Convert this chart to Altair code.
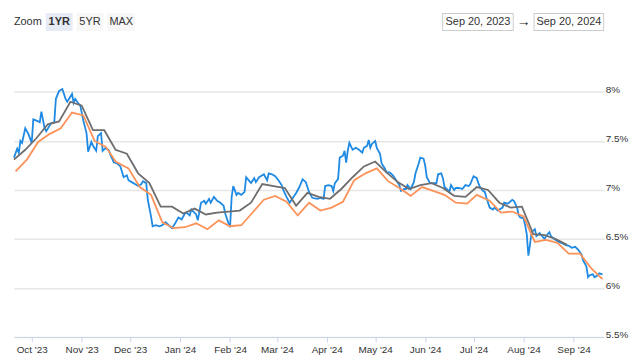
import altair as alt
import pandas as pd

# ---------------- data ----------------
START = "2023-09-20"
# daily index: days after START, rate (%)
blue_days = [0, 2, 3, 4, 5, 7, 9, 11, 12, 15, 16, 17, 19, 20, 23, 25, 26, 28, 30, 32, 33, 36, 37, 38, 40, 41,
             43, 45, 46, 48, 49, 51, 52, 54, 55, 57, 59, 60, 62, 64, 66, 68, 70, 71, 73, 75, 77, 79, 80, 82,
             83, 85, 86, 88, 90, 92, 94, 96, 98, 100, 102, 104, 106, 107, 109, 110, 113, 114, 116, 118, 119,
             121, 122, 124, 126, 128, 130, 131, 133, 134, 135, 136, 138, 139, 141, 143, 144, 146, 147, 149,
             150, 152, 154, 155, 157, 158, 160, 162, 164, 166, 167, 169, 171, 173, 175, 177, 179, 181, 183,
             185, 188, 190, 192, 193, 195, 197, 198, 199, 201, 202, 204, 205, 206, 207, 208, 210, 212, 214,
             216, 217, 219, 220, 221, 222, 224, 225, 227, 228, 230, 231, 233, 235, 237, 239, 240, 242, 243,
             244, 246, 248, 249, 251, 252, 254, 255, 256, 258, 260, 262, 263, 265, 266, 267, 269, 270, 271,
             273, 274, 276, 278, 280, 282, 283, 285, 287, 288, 289, 291, 292, 293, 295, 297, 298, 300, 301,
             303, 304, 306, 307, 309, 310, 312, 313, 314, 316, 317, 318, 319, 320, 321, 323, 324, 326, 328,
             329, 330, 332, 333, 335, 336, 338, 341, 342, 344, 346, 348, 350, 352, 353, 355, 356, 357, 359,
             360, 362, 363, 365]
blue_vals = [7.33, 7.42, 7.38, 7.50, 7.48, 7.63, 7.57, 7.48, 7.72, 7.70, 7.69, 7.80, 7.63, 7.60, 7.68, 7.69,
             7.93, 8.01, 8.03, 7.93, 7.90, 7.98, 7.89, 7.93, 7.88, 7.87,
             7.71, 7.58, 7.39, 7.49, 7.45, 7.40, 7.55, 7.58, 7.40, 7.43, 7.40, 7.35, 7.28, 7.27, 7.24, 7.13,
             7.15, 7.10, 7.08, 7.06, 7.04, 7.06, 7.09, 7.07,
             6.90, 6.73, 6.63, 6.64, 6.63, 6.64, 6.67, 6.64, 6.61, 6.66, 6.72, 6.70, 6.76, 6.77, 6.74, 6.80,
             6.75, 6.69, 6.87, 6.89, 6.86,
             6.91, 6.87, 6.93, 6.89, 6.87, 6.84, 6.76, 6.66, 6.62, 6.93, 7.04, 6.95, 6.97, 6.95, 6.98, 7.13,
             7.09, 7.07, 7.12,
             7.08, 7.13, 7.15, 7.16, 7.10, 7.17, 7.16, 7.14, 7.10, 7.05, 7.00, 6.93, 6.87, 6.92, 6.97, 7.03,
             7.11, 7.08, 6.98,
             6.92, 6.91, 6.92, 6.91, 7.04, 7.05, 7.04, 6.99, 7.07, 7.11, 7.33, 7.35, 7.40, 7.28, 7.40, 7.48,
             7.41, 7.43, 7.41,
             7.38, 7.43, 7.45, 7.51, 7.43, 7.47, 7.50, 7.43, 7.37, 7.27, 7.22, 7.18, 7.18, 7.15, 7.10, 7.05,
             6.99, 7.01, 7.01,
             7.05, 7.01, 7.08, 7.17, 7.27, 7.33, 7.32, 7.25, 7.13, 7.07, 7.07, 7.07, 7.16, 7.17, 7.12, 7.03,
             7.00, 6.98, 7.05,
             7.00, 7.02, 7.02, 7.01, 7.05, 7.04, 7.06, 7.14, 7.12, 7.07, 7.03, 6.99, 6.98, 6.92, 6.82, 6.80,
             6.82, 6.79, 6.80,
             6.82, 6.87, 6.86, 6.87, 6.90, 6.89, 6.82, 6.74, 6.72, 6.71, 6.64, 6.55, 6.33, 6.44, 6.57, 6.60,
             6.53, 6.56, 6.52,
             6.50, 6.53, 6.57, 6.53, 6.50, 6.49, 6.47, 6.45, 6.44, 6.43, 6.41, 6.42, 6.39, 6.34, 6.28, 6.22,
             6.11, 6.13, 6.14,
             6.11, 6.13, 6.15, 6.14]

# weekly survey (grey)
gray_dates = ["2023-09-20", "2023-09-27", "2023-10-04", "2023-10-11", "2023-10-18", "2023-10-25",
              "2023-11-01", "2023-11-08", "2023-11-15", "2023-11-22", "2023-11-29", "2023-12-06",
              "2023-12-13", "2023-12-20", "2023-12-27", "2024-01-03", "2024-01-10", "2024-01-17",
              "2024-01-24", "2024-01-31", "2024-02-07", "2024-02-14", "2024-02-21", "2024-02-28",
              "2024-03-06", "2024-03-13", "2024-03-20", "2024-03-27", "2024-04-03", "2024-04-10",
              "2024-04-17", "2024-04-24", "2024-05-01", "2024-05-08", "2024-05-15", "2024-05-22",
              "2024-05-29", "2024-06-05", "2024-06-12", "2024-06-19", "2024-06-26", "2024-07-03",
              "2024-07-10", "2024-07-17", "2024-07-24", "2024-07-31", "2024-08-07", "2024-08-14",
              "2024-08-21", "2024-08-28"]
gray_vals = [7.31, 7.41, 7.53, 7.67, 7.70, 7.90, 7.86, 7.61, 7.61, 7.41, 7.37, 7.17, 7.07, 6.83, 6.83,
             6.76, 6.81, 6.75, 6.77, 6.78, 6.79, 6.87, 7.06, 7.04, 7.02, 6.84, 6.97, 6.93, 6.91, 7.01,
             7.13, 7.24, 7.29, 7.18, 7.08, 7.01, 7.05, 7.07, 7.02, 6.94, 6.93, 7.03, 7.00, 6.87, 6.82,
             6.83, 6.55, 6.54, 6.50, 6.44]

# weekly survey (orange)
orange_dates = ["2023-09-21", "2023-09-28", "2023-10-05", "2023-10-12", "2023-10-19", "2023-10-26",
                "2023-11-02", "2023-11-09", "2023-11-16", "2023-11-22", "2023-11-30", "2023-12-07",
                "2023-12-14", "2023-12-21", "2023-12-28", "2024-01-04", "2024-01-11", "2024-01-18",
                "2024-01-25", "2024-02-01", "2024-02-08", "2024-02-15", "2024-02-22", "2024-02-29",
                "2024-03-07", "2024-03-14", "2024-03-21", "2024-03-28", "2024-04-04", "2024-04-11",
                "2024-04-18", "2024-04-25", "2024-05-02", "2024-05-09", "2024-05-16", "2024-05-23",
                "2024-05-30", "2024-06-06", "2024-06-13", "2024-06-20", "2024-06-27", "2024-07-03",
                "2024-07-11", "2024-07-18", "2024-07-25", "2024-08-01", "2024-08-08", "2024-08-15",
                "2024-08-22", "2024-08-29", "2024-09-05", "2024-09-12", "2024-09-19"]
orange_vals = [7.19, 7.31, 7.49, 7.57, 7.63, 7.79, 7.76, 7.50, 7.44, 7.29, 7.22, 7.03, 6.95, 6.67, 6.61,
               6.62, 6.66, 6.60, 6.69, 6.63, 6.64, 6.77, 6.90, 6.94, 6.88, 6.74, 6.87, 6.79, 6.82, 6.88,
               7.10, 7.17, 7.22, 7.09, 7.02, 6.94, 7.03, 6.99, 6.95, 6.87, 6.86, 6.95, 6.89, 6.77, 6.78,
               6.73, 6.47, 6.49, 6.46, 6.35, 6.35, 6.20, 6.09]

series_names = ["daily", "weekly_a", "weekly_b"]
series_colors = ["#1e8ae3", "#6e6e6e", "#fd9259"]
x_tick_months = [(2023, 10), (2023, 11), (2023, 12), (2024, 1), (2024, 2), (2024, 3), (2024, 4),
                 (2024, 5), (2024, 6), (2024, 7), (2024, 8), (2024, 9)]
y_ticks = [5.5, 6, 6.5, 7, 7.5, 8]
range_labels = ["Sep 20, 2023", "Sep 20, 2024"]
zoom_buttons = ["1YR", "5YR", "MAX"]

# ---------------- tables ----------------
base_day = pd.Timestamp(START)
blue_df = pd.DataFrame({"date": [base_day + pd.Timedelta(days=d) for d in blue_days],
                        "rate": blue_vals, "series": series_names[0]})
gray_df = pd.DataFrame({"date": pd.to_datetime(gray_dates), "rate": gray_vals, "series": series_names[1]})
orange_df = pd.DataFrame({"date": pd.to_datetime(orange_dates), "rate": orange_vals,
                          "series": series_names[2]})
all_df = pd.concat([blue_df, gray_df, orange_df], ignore_index=True)
all_df["date"] = all_df["date"].dt.strftime("%Y-%m-%dT00:00:00")

FONT = "Liberation Sans"
# the view also holds the range-selector row above the plot
W, H = 594, 330
Y_TOP = 8.845  # scale top, so that 5.5 .. 8.5 occupies the plot band below the header row

lines = alt.Chart(all_df).mark_line(strokeWidth=1.8).encode(
    x=alt.X(
        "date:T",
        scale=alt.Scale(domain=[alt.DateTime(year=2023, month=9, date=20),
                                alt.DateTime(year=2024, month=9, date=20)]),
        axis=alt.Axis(
            values=[alt.DateTime(year=y, month=m, date=1) for y, m in x_tick_months],
            format="%b '%y", title=None, grid=False, labelFlush=False,
            domainColor="#ccd6eb", tickColor="#ccd6eb", tickSize=5, labelPadding=3,
            labelFontSize=10, labelColor="#333333", labelFont=FONT,
        ),
    ),
    y=alt.Y(
        "rate:Q",
        scale=alt.Scale(domain=[5.5, Y_TOP], nice=False, zero=False),
        axis=alt.Axis(
            orient="right", values=y_ticks, labelExpr="datum.value + '%'", title=None,
            domain=False, ticks=False, grid=True, gridColor="#e6e6e6", gridWidth=1.5,
            labelAlign="left", labelBaseline="alphabetic", labelPadding=1, labelOffset=1,
            labelFontSize=10, labelColor="#333333", labelFont=FONT,
        ),
    ),
    color=alt.Color("series:N", scale=alt.Scale(domain=series_names, range=series_colors), legend=None),
    order=alt.Order("series:N", sort="ascending"),
)

one = alt.Data(values=[{"k": 0}])

def box(x0, x1, y0, y1, fill):
    return alt.Chart(one).mark_rect(fill=fill).encode(
        x=alt.value(x0), x2=alt.value(x1), y=alt.value(y0), y2=alt.value(y1))

def label(txt, x, y, align="center", size=11, weight="normal", color="#333333"):
    return alt.Chart(one).mark_text(
        text=txt, align=align, baseline="middle", font=FONT, fontSize=size,
        fontWeight=weight, color=color).encode(x=alt.value(x), y=alt.value(y))

# header (range selector) layout in view pixels
header = [label("Zoom", 28, 13, align="right")]
btn_pos = [(32, 59), (63, 90), (94, 122)]
btn_fill = ["#e6ebf5", "#f7f7f7", "#f7f7f7"]
for name, (a, b), f in zip(zoom_buttons, btn_pos, btn_fill):
    header.append(box(a, b, 4, 22, f))
    header.append(label(name, (a + b) / 2, 13, weight="bold" if name == "1YR" else "normal"))
box_pos = [(431, 503), (523, 594)]
for txt, (a, b) in zip(range_labels, box_pos):
    header.append(box(a, b, 4, 22, "#cccccc"))
    header.append(box(a + 1, b - 1, 5, 21, "#ffffff"))
    header.append(label(txt, (a + b) / 2, 13))
header.append(label("\u2192", 513, 13, size=14, weight="bold", color="#222222"))

chart = alt.layer(lines, *header).properties(
    width=W, height=H,
    autosize=alt.AutoSizeParams(type="none"),
    padding={"left": 6, "top": 0, "right": 25, "bottom": 20},
).configure(font=FONT).configure_view(stroke="transparent", strokeWidth=0)

chart.save("out.html", embed_options={"renderer": "svg", "actions": False})
